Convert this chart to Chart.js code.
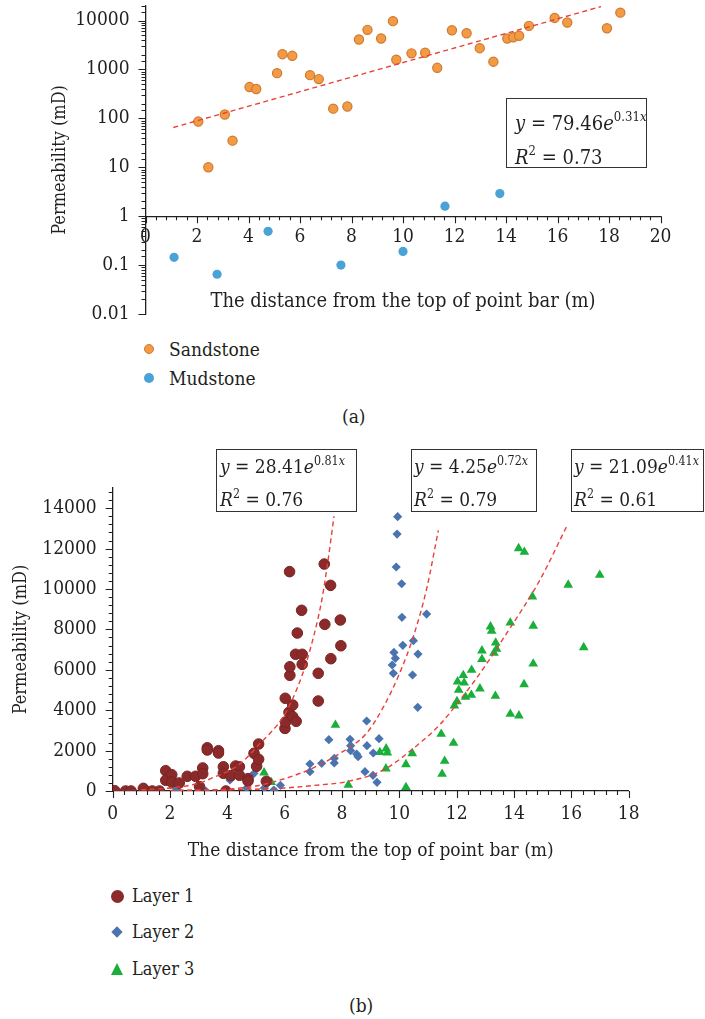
<!DOCTYPE html>
<html>
<head>
<meta charset="utf-8">
<script src="https://cdn.jsdelivr.net/npm/chart.js"></script>
<style>
  body { margin: 0; background: #fff; }
  #page { position: relative; width: 705px; height: 1019px; overflow: hidden; font-family: "DejaVu Serif Condensed", "DejaVu Serif", serif; color: #231f20; }
  canvas { position: absolute; left: 0; }
  .box { position: absolute; border: 1.3px solid #333; background: #fff; box-sizing: border-box; }
  .ln { position: absolute; white-space: nowrap; line-height: 26px; }
  .ln sup { font-size: 0.65em; position: relative; top: -0.1em; }
  .lg { position: absolute; white-space: nowrap; line-height: 26px; }
  .mk { position: absolute; box-sizing: border-box; }
</style>
</head>
<body>
<div id="page">
  <canvas id="chartA" width="705" height="330" style="top:0"></canvas>
  <canvas id="chartB" width="705" height="440" style="top:440px"></canvas>

  <div class="box" style="left:506px;top:98px;width:141px;height:70px"></div>
  <div class="ln" style="left:515px;top:105px;font-size:20px"><i>y</i> = 79.46<i>e</i><sup>0.31<i>x</i></sup></div>
  <div class="ln" style="left:515px;top:139px;font-size:20px"><i>R</i><sup>2</sup> = 0.73</div>

  <div class="mk" style="left:144px;top:344px;width:10px;height:10px;border-radius:50%;background:#f39a45;border:1.2px solid #cf7a30"></div>
  <div class="lg" style="left:169px;top:336px;font-size:19px">Sandstone</div>
  <div class="mk" style="left:144px;top:373px;width:10px;height:10px;border-radius:50%;background:#4aa2d6"></div>
  <div class="lg" style="left:169px;top:365px;font-size:19px">Mudstone</div>
  <div class="lg" style="left:342px;top:403px;font-size:19px">(a)</div>

  <div class="box" style="left:216px;top:449px;width:141px;height:63px"></div>
  <div class="ln" style="left:220px;top:449px;font-size:19px"><i>y</i> = 28.41<i>e</i><sup>0.81<i>x</i></sup></div>
  <div class="ln" style="left:220px;top:482px;font-size:19px"><i>R</i><sup>2</sup> = 0.76</div>
  <div class="box" style="left:411px;top:449px;width:126px;height:63px"></div>
  <div class="ln" style="left:414px;top:449px;font-size:19px"><i>y</i> = 4.25<i>e</i><sup>0.72<i>x</i></sup></div>
  <div class="ln" style="left:414px;top:482px;font-size:19px"><i>R</i><sup>2</sup> = 0.79</div>
  <div class="box" style="left:571px;top:449px;width:133px;height:63px"></div>
  <div class="ln" style="left:574px;top:449px;font-size:19px"><i>y</i> = 21.09<i>e</i><sup>0.41<i>x</i></sup></div>
  <div class="ln" style="left:574px;top:482px;font-size:19px"><i>R</i><sup>2</sup> = 0.61</div>

  <div class="mk" style="left:111px;top:890px;width:13px;height:13px;border-radius:50%;background:#8b2a2a"></div>
  <div class="lg" style="left:132px;top:883px;font-size:18px">Layer 1</div>
  <div class="mk" style="left:113px;top:928px;width:8px;height:8px;background:#4a74b0;transform:rotate(45deg)"></div>
  <div class="lg" style="left:132px;top:919px;font-size:18px">Layer 2</div>
  <div class="mk" style="left:111px;top:963px;width:0;height:0;border-left:6.5px solid transparent;border-right:6.5px solid transparent;border-bottom:12px solid #1aae3b"></div>
  <div class="lg" style="left:132px;top:956px;font-size:18px">Layer 3</div>
  <div class="lg" style="left:349px;top:992px;font-size:19px">(b)</div>
</div>

<script>
const FONT = '"DejaVu Serif Condensed", "DejaVu Serif", serif';
const INK = '#231f20';

// (a) sandstone and mudstone samples
const sandX = [2.05, 2.44, 3.08, 3.38, 4.04, 4.30, 5.11, 5.32, 5.70, 6.39, 6.73, 7.29, 7.84, 8.29, 8.62, 9.15, 9.61, 9.74, 10.33, 10.86, 11.33, 11.90, 12.47, 12.98, 13.51, 14.05, 14.28, 14.51, 14.89, 15.89, 16.38, 17.92, 18.44];
const sandY = [86, 10, 120, 35, 436, 398, 840, 2050, 1900, 765, 635, 158, 175, 4100, 6450, 4300, 9700, 1580, 2130, 2190, 1080, 6330, 5500, 2720, 1440, 4280, 4560, 4880, 7780, 11300, 9100, 6950, 14500];
const mudX = [1.11, 2.78, 4.76, 7.59, 10.0, 11.63, 13.76];
const mudY = [0.144, 0.065, 0.49, 0.1, 0.19, 1.6, 2.9];
const sandFitX = [1.08, 17.69];
const sandFitY = [65, 19300];

// (b) three layers
const l1X = [0.07, 0.45, 0.64, 1.07, 1.38, 1.63, 1.85, 1.85, 2.06, 2.06, 2.32, 2.60, 2.89, 3.14, 3.14, 3.03, 3.30, 3.30, 3.69, 3.69, 3.86, 3.86, 3.95, 4.12, 4.29, 4.42, 4.42, 4.72, 4.72, 4.93, 5.02, 5.09, 5.09, 5.36, 6.01, 6.03, 6.02, 6.15, 6.28, 6.28, 6.40, 6.18, 6.18, 6.17, 6.38, 6.61, 6.61, 6.44, 6.59, 7.17, 7.17, 7.38, 7.60, 7.40, 7.94, 7.96, 7.61];
const l1Y = [15, 0, 0, 130, 0, 0, 1005, 530, 807, 445, 396, 727, 727, 1140, 857, 215, 2140, 2030, 1995, 1880, 1200, 875, 0, 760, 1237, 1200, 777, 610, 495, 1866, 1220, 1570, 2325, 480, 3100, 3415, 4590, 3895, 4257, 3680, 3450, 5727, 6150, 10860, 6767, 6767, 6270, 7820, 8944, 5826, 4455, 11236, 10180, 8250, 8465, 7190, 6550];
const l2X = [1.24, 2.23, 3.25, 4.09, 4.67, 4.93, 5.29, 5.62, 5.85, 6.88, 6.88, 7.29, 7.73, 7.73, 7.54, 8.28, 8.30, 8.30, 8.51, 8.56, 8.86, 8.87, 9.29, 9.09, 8.80, 9.08, 9.22, 9.94, 9.92, 9.89, 10.08, 10.09, 10.95, 10.12, 10.49, 10.65, 9.81, 9.86, 9.75, 9.79, 10.46, 10.64];
const l2Y = [0, 84, 0, 545, 148, 876, 148, 50, 282, 1337, 955, 1370, 1617, 1386, 2540, 2557, 2244, 1995, 1830, 1700, 3465, 2244, 2590, 1880, 955, 777, 430, 13580, 12720, 11090, 10260, 8600, 8760, 7210, 7440, 6780, 6860, 6570, 6237, 5826, 5742, 4143];
const l3X = [2.10, 5.28, 5.53, 7.77, 8.22, 9.32, 9.54, 9.58, 9.53, 10.23, 10.23, 10.45, 11.46, 11.89, 11.58, 11.49, 11.92, 12.01, 12.03, 12.23, 12.26, 12.07, 12.31, 12.51, 12.52, 12.81, 12.88, 12.88, 13.18, 13.22, 13.36, 13.30, 13.39, 13.35, 13.87, 13.87, 14.17, 14.16, 14.36, 14.35, 14.64, 14.67, 14.67, 15.89, 16.43, 16.99];
const l3Y = [248, 906, 430, 3267, 297, 1915, 2095, 1896, 1104, 183, 1320, 1865, 2820, 2376, 1485, 841, 4224, 4438, 5410, 5727, 5360, 5000, 4653, 4752, 5990, 5064, 6945, 6520, 8133, 7920, 7340, 6830, 7030, 4700, 8330, 3810, 3730, 12010, 11830, 5280, 9620, 8170, 6300, 10200, 7110, 10690];
const yTicksB = [0, 2000, 4000, 6000, 8000, 10000, 12000, 14000];

// fitted curves
const fit1X = [1.0, 2.0, 3.0, 3.4, 4.4, 5.1, 6.0, 6.6, 7.0, 7.3, 7.5, 7.72];
const fit1Y = [60, 150, 380, 600, 1300, 2300, 3800, 5700, 7600, 9500, 11300, 13600];
const fit2X = [2.0, 3.0, 4.0, 5.0, 5.6, 6.3, 7.0, 7.93, 8.85, 9.44, 10.0, 10.5, 10.95, 11.36];
const fit2Y = [20, 40, 90, 250, 450, 750, 1150, 1866, 2850, 4150, 5800, 7700, 10000, 12900];
const fit3X = [2.0, 4.0, 6.0, 7.2, 8.16, 9.44, 10.49, 11.42, 12.11, 12.7, 13.74, 14.9, 15.83];
const fit3Y = [30, 60, 150, 300, 460, 1040, 2110, 3300, 4500, 5600, 7800, 10440, 13080];

const pts = (xs, ys) => xs.map((x, i) => ({x: x, y: ys[i]}));

// minor / major tick marks drawn along both axes
const tickMarks = {
  id: 'tickMarks',
  beforeDatasetsDraw(chart, args, opts) {
    const ctx = chart.ctx;
    const xs = chart.scales.x, ys = chart.scales.y;
    const axisY = opts.xAt != null ? ys.getPixelForValue(opts.xAt) : chart.chartArea.bottom;
    const axisX = chart.chartArea.left;
    ctx.save();
    ctx.strokeStyle = INK;
    ctx.lineWidth = 1.1;
    ctx.beginPath();
    for (let i = 0; ; i++) {
      const v = xs.min + i * opts.xMinor;
      if (v > xs.max + 1e-9) break;
      const px = Math.round(xs.getPixelForValue(v)) + 0.5;
      const len = i % 5 === 0 ? 7 : 4;
      ctx.moveTo(px, axisY);
      ctx.lineTo(px, axisY + len);
    }
    if (opts.log) {
      ys.ticks.forEach(t => {
        const l = Math.log10(t.value);
        const major = Math.abs(l - Math.round(l)) < 1e-6;
        const py = Math.round(ys.getPixelForValue(t.value)) + 0.5;
        ctx.moveTo(axisX, py);
        ctx.lineTo(axisX - (major ? 7 : 4), py);
      });
    } else {
      for (let i = 0; ; i++) {
        const v = ys.min + i * opts.yMinor;
        if (v > ys.max + 1e-9) break;
        const py = Math.round(ys.getPixelForValue(v)) + 0.5;
        ctx.moveTo(axisX, py);
        ctx.lineTo(axisX - (i % 5 === 0 ? 7 : 4), py);
      }
    }
    ctx.stroke();
    ctx.restore();
  }
};

// x title of chart (a) sits at the bottom of the plot, under the crossing axis
const bottomTitle = {
  id: 'bottomTitle',
  afterDraw(chart, args, opts) {
    if (!opts.text) return;
    const ctx = chart.ctx, a = chart.chartArea;
    ctx.save();
    ctx.font = opts.size + 'px ' + FONT;
    ctx.fillStyle = INK;
    ctx.textAlign = 'center';
    ctx.textBaseline = 'middle';
    ctx.fillText(opts.text, (a.left + a.right) / 2, opts.y);
    ctx.restore();
  }
};

const fitStyle = {
  type: 'scatter', showLine: true, pointRadius: 0, borderColor: '#e8413a',
  borderWidth: 1.4, borderDash: [5, 3.5], fill: false, cubicInterpolationMode: 'monotone'
};

const axisBorder = {color: INK, width: 1.3};

new Chart(document.getElementById('chartA'), {
  type: 'scatter',
  data: {
    datasets: [
      Object.assign({label: 'Trend', data: pts(sandFitX, sandFitY)}, fitStyle, {cubicInterpolationMode: 'default'}),
      {label: 'Sandstone', data: pts(sandX, sandY), pointRadius: 4.6, backgroundColor: '#f39a45', borderColor: '#cf7a30', borderWidth: 1.2},
      {label: 'Mudstone', data: pts(mudX, mudY), pointRadius: 4.6, backgroundColor: '#4aa2d6', borderColor: '#4aa2d6', borderWidth: 0}
    ]
  },
  options: {
    responsive: false,
    animation: false,
    events: [],
    devicePixelRatio: 1,
    layout: {padding: {left: 0, right: 44.5, top: 2.5, bottom: 16}},
    plugins: {
      legend: {display: false},
      tooltip: {enabled: false},
      tickMarks: {xAt: 1, xMinor: 0.4, log: true},
      bottomTitle: {text: 'The distance from the top of point bar (m)', y: 302, size: 20}
    },
    scales: {
      x: {
        type: 'linear', min: 0, max: 20, position: {y: 1},
        ticks: {stepSize: 2, color: INK, padding: 9, font: {family: FONT, size: 19}},
        grid: {display: false, drawTicks: false},
        border: axisBorder,
        afterFit(s) { s.paddingLeft = 0; s.paddingRight = 0; }
      },
      y: {
        type: 'logarithmic', min: 0.01, max: 20000,
        ticks: {
          autoSkip: false, color: INK, padding: 16, font: {family: FONT, size: 19},
          callback(v) {
            const l = Math.log10(v);
            if (Math.abs(l - Math.round(l)) > 1e-6) return '';
            return v >= 1 ? String(Math.round(v)) : String(+v.toPrecision(1));
          }
        },
        grid: {display: false, drawTicks: false},
        border: axisBorder,
        title: {display: true, text: 'Permeability (mD)', color: INK, font: {family: FONT, size: 18}, padding: {top: 50, bottom: 0}},
        afterFit(s) { s.width = 145.5; s.paddingTop = 0; s.paddingBottom = 0; }
      }
    }
  },
  plugins: [tickMarks, bottomTitle]
});

new Chart(document.getElementById('chartB'), {
  type: 'scatter',
  data: {
    datasets: [
      Object.assign({label: 'Trend 1', data: pts(fit1X, fit1Y)}, fitStyle),
      Object.assign({label: 'Trend 2', data: pts(fit2X, fit2Y)}, fitStyle),
      Object.assign({label: 'Trend 3', data: pts(fit3X, fit3Y)}, fitStyle),
      {label: 'Layer 1', data: pts(l1X, l1Y), pointStyle: 'circle', pointRadius: 5.3, backgroundColor: '#8b2a2a', borderColor: '#7a2323', borderWidth: 1},
      {label: 'Layer 2', data: pts(l2X, l2Y), pointStyle: 'rectRot', pointRadius: 4.6, backgroundColor: '#4a74b0', borderColor: '#4a74b0', borderWidth: 0},
      {label: 'Layer 3', data: pts(l3X, l3Y), pointStyle: 'triangle', pointRadius: 5.6, backgroundColor: '#1aae3b', borderColor: '#1aae3b', borderWidth: 0}
    ]
  },
  options: {
    responsive: false,
    animation: false,
    events: [],
    devicePixelRatio: 1,
    layout: {padding: {left: 0, right: 76.3, top: 48, bottom: 14}},
    plugins: {
      legend: {display: false},
      tooltip: {enabled: false},
      tickMarks: {xMinor: 0.4, yMinor: 400}
    },
    scales: {
      x: {
        type: 'linear', min: 0, max: 18, position: 'bottom',
        ticks: {stepSize: 2, color: INK, padding: 12, font: {family: FONT, size: 19}},
        grid: {display: false, drawTicks: false},
        border: axisBorder,
        title: {display: true, text: 'The distance from the top of point bar (m)', color: INK, font: {family: FONT, size: 19}, padding: {top: 0, bottom: 4}},
        afterFit(s) { s.height = 75; s.paddingLeft = 0; s.paddingRight = 0; }
      },
      y: {
        type: 'linear', min: 0, max: 15000,
        afterBuildTicks(s) { s.ticks = yTicksB.map(v => ({value: v})); },
        ticks: {color: INK, padding: 16, font: {family: FONT, size: 19}, callback: v => String(v)},
        grid: {display: false, drawTicks: false},
        border: axisBorder,
        title: {display: true, text: 'Permeability (mD)', color: INK, font: {family: FONT, size: 18}, padding: {top: 11, bottom: 0}},
        afterFit(s) { s.width = 112.7; s.paddingTop = 0; s.paddingBottom = 0; }
      }
    }
  },
  plugins: [tickMarks]
});
</script>
</body>
</html>
